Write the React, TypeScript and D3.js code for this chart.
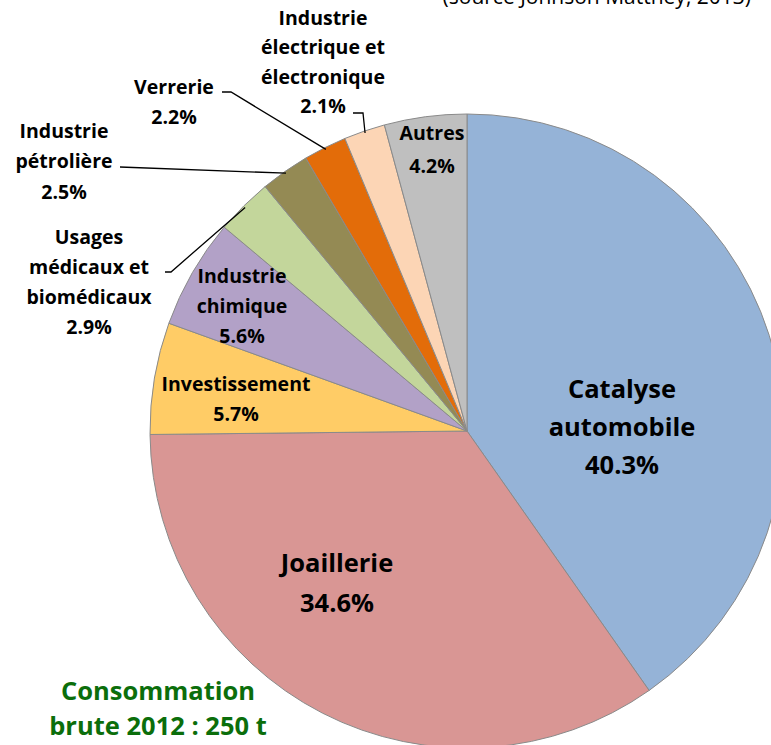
import React from "react";
import * as d3 from "d3";

const categories = [
  "Catalyse automobile",
  "Joaillerie",
  "Investissement",
  "Industrie chimique",
  "Usages médicaux et biomédicaux",
  "Industrie pétrolière",
  "Verrerie",
  "Industrie électrique et électronique",
  "Autres",
];
const values = [40.3, 34.6, 5.7, 5.6, 2.9, 2.5, 2.2, 2.1, 4.2];
const colors = [
  "#95B3D7",
  "#D99694",
  "#FFCC66",
  "#B2A1C7",
  "#C3D69B",
  "#948A54",
  "#E36C09",
  "#FCD5B5",
  "#BFBFBF",
];
const labelLines = [
  ["Catalyse", "automobile", "40.3%"],
  ["Joaillerie", "34.6%"],
  ["Investissement", "5.7%"],
  ["Industrie", "chimique", "5.6%"],
  ["Usages", "médicaux et", "biomédicaux", "2.9%"],
  ["Industrie", "pétrolière", "2.5%"],
  ["Verrerie", "2.2%"],
  ["Industrie", "électrique et", "électronique", "2.1%"],
  ["Autres", "4.2%"],
];
const sourceText = "(source Johnson Matthey, 2013)";
const totalText = ["Consommation", "brute 2012 : 250 t"];

// layout (positions only)
const W = 771;
const H = 745;
const cx = 467;
const cy = 431;
const R = 317;
const font = "'Open Sans', Lato, sans-serif";

type LabelLayout = {
  x: number;
  y: number;
  dy: number;
  size: number;
  leader?: [number, number][];
};
const layout: LabelLayout[] = [
  { x: 622, y: 388, dy: 38, size: 25.5 },
  { x: 337, y: 562, dy: 40, size: 25.5 },
  { x: 236, y: 383, dy: 30, size: 19.5 },
  { x: 242, y: 275, dy: 30, size: 19.5 },
  { x: 89, y: 236, dy: 30, size: 19.5, leader: [[165, 272], [171, 272]] },
  { x: 64, y: 130, dy: 30.5, size: 19.5, leader: [[120, 167]] },
  { x: 174, y: 86, dy: 30, size: 19.5, leader: [[222, 92], [231, 92]] },
  { x: 323, y: 17, dy: 29.5, size: 19.5, leader: [[353, 113], [363, 113]] },
  { x: 432, y: 132, dy: 33, size: 19.5 },
];

export default function App() {
  const pie = d3
    .pie<number>()
    .sort(null)
    .value((d) => d)
    .startAngle(0)
    .endAngle(2 * Math.PI);
  const arcs = pie(values);
  const arc = d3.arc<d3.PieArcDatum<number>>().innerRadius(0).outerRadius(R);

  const edgePoint = (a: d3.PieArcDatum<number>): [number, number] => {
    const m = (a.startAngle + a.endAngle) / 2;
    return [cx + (R - 2) * Math.sin(m), cy - (R - 2) * Math.cos(m)];
  };

  const line = d3.line();

  return (
    <svg
      width={W}
      height={H}
      style={{ position: "absolute", left: 0, top: 0, background: "#fff" }}
      fontFamily={font}
    >
      <text
        x={751}
        y={4}
        textAnchor="end"
        fontSize={21}
        fill="#000"
        fontWeight={400}
      >
        {sourceText}
      </text>
      <g transform={`translate(${cx},${cy})`}>
        {arcs.map((a, i) => (
          <path
            key={categories[i]}
            d={arc(a) || ""}
            fill={colors[i]}
            stroke="#8a8a8a"
            strokeWidth={1}
          />
        ))}
      </g>
      {arcs.map((a, i) => {
        const L = layout[i];
        if (!L.leader) return null;
        const pts = [...L.leader, edgePoint(a)] as [number, number][];
        return (
          <path
            key={"l" + i}
            d={line(pts) || ""}
            fill="none"
            stroke="#000"
            strokeWidth={1.3}
          />
        );
      })}
      {labelLines.map((lines, i) => {
        const L = layout[i];
        return (
          <text
            key={"t" + i}
            textAnchor="middle"
            fontWeight={700}
            fontSize={L.size}
            fill="#000"
          >
            {lines.map((s, j) => (
              <tspan
                key={j}
                x={L.x}
                y={L.y + j * L.dy}
                dominantBaseline="central"
              >
                {s}
              </tspan>
            ))}
          </text>
        );
      })}
      <text textAnchor="middle" fontWeight={700} fontSize={25.5} fill="#0B6E0B">
        {totalText.map((s, j) => (
          <tspan key={j} x={158} y={690 + j * 35} dominantBaseline="central">
            {s}
          </tspan>
        ))}
      </text>
    </svg>
  );
}
